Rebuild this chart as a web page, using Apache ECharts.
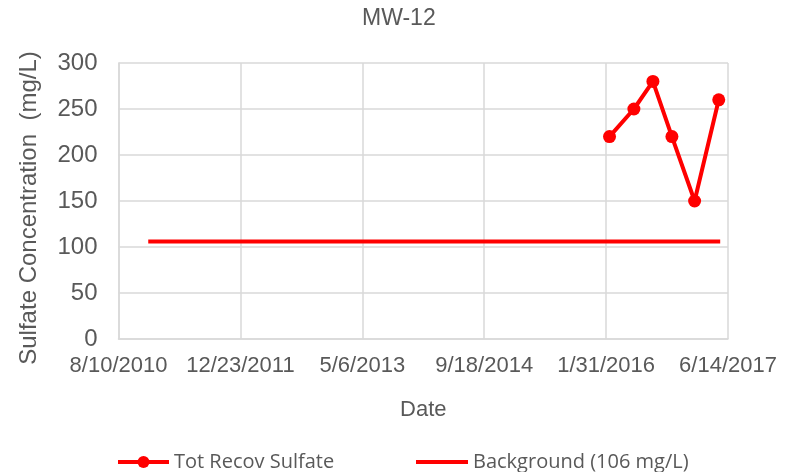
<!DOCTYPE html>
<html>
<head>
<meta charset="utf-8">
<script src="https://cdn.jsdelivr.net/npm/echarts@6/dist/echarts.min.js"></script>
<style>
  html, body { margin: 0; padding: 0; background: #fff; }
  #chart { width: 787px; height: 472px; }
</style>
</head>
<body>
<div id="chart"></div>
<script>
// Sampling dates and sulfate results for MW-12
const sampleDates = ['2016-02-14', '2016-05-24', '2016-08-10', '2016-10-27', '2017-01-28', '2017-05-07'];
const sulfateValues = [220, 250, 280, 220, 150, 260];

// Background reference level drawn across the record
const backgroundDates = ['2010-12-10', '2017-05-13'];
const backgroundValues = [106, 106];

// Axis range (spreadsheet serial days) and tick spacing
const xMinDate = '2010-08-10';
const xMaxDate = '2017-06-14';
const xTickDays = 500;
const yMin = 0, yMax = 300, yStep = 50;

const EPOCH = Date.UTC(1899, 11, 30);
function toSerial(iso) {
  const p = iso.split('-').map(Number);
  return Math.round((Date.UTC(p[0], p[1] - 1, p[2]) - EPOCH) / 86400000);
}
function serialLabel(v) {
  const d = new Date(EPOCH + v * 86400000);
  return (d.getUTCMonth() + 1) + '/' + d.getUTCDate() + '/' + d.getUTCFullYear();
}

const textColor = '#595959';
const gridColor = '#d9d9d9';
const red = '#ff0000';
const font = 'Liberation Sans, Arial, sans-serif';
const legendFont = 'Open Sans, Liberation Sans, sans-serif';

const chart = echarts.init(document.getElementById('chart'), null, { renderer: 'canvas' });
chart.setOption({
  animation: false,
  backgroundColor: '#fff',
  title: {
    text: 'MW-12',
    left: 362,
    top: 7,
    padding: 0,
    textStyle: { color: textColor, fontSize: 23, fontWeight: 'normal', fontFamily: font }
  },
  grid: { left: 118.5, right: 59, top: 63, bottom: 133, containLabel: false },
  xAxis: {
    type: 'value',
    min: toSerial(xMinDate),
    max: toSerial(xMaxDate),
    interval: xTickDays,
    name: 'Date',
    nameLocation: 'middle',
    nameGap: 60,
    nameTextStyle: { color: textColor, fontSize: 22, fontFamily: font },
    axisLine: { show: true, lineStyle: { color: gridColor, width: 1.5 } },
    axisTick: { show: false },
    axisLabel: {
      color: textColor, fontSize: 22, fontFamily: font, margin: 16,
      formatter: serialLabel
    },
    splitLine: { show: true, lineStyle: { color: gridColor, width: 1.5 } }
  },
  yAxis: {
    type: 'value',
    min: yMin,
    max: yMax,
    interval: yStep,
    name: 'Sulfate Concentration  (mg/L)',
    nameLocation: 'middle',
    nameRotate: 90,
    nameGap: 77,
    nameTextStyle: { color: textColor, fontSize: 24, fontFamily: font, padding: [0, 14, 0, 0] },
    axisLine: { show: true, lineStyle: { color: gridColor, width: 1.5 } },
    axisTick: { show: false },
    axisLabel: { color: textColor, fontSize: 24, fontFamily: font, margin: 21 },
    splitLine: { show: true, lineStyle: { color: gridColor, width: 1.5 } }
  },
  legend: [
    {
      left: 116,
      top: 452,
      padding: 0,
      itemWidth: 51,
      itemHeight: 15,
      lineStyle: { width: 4 },
      textStyle: { color: textColor, fontSize: 20, lineHeight: 20, fontFamily: legendFont },
      data: ['Tot Recov Sulfate']
    },
    {
      left: 416,
      top: 452,
      padding: 0,
      itemWidth: 52,
      itemHeight: 4,
      icon: 'rect',
      textStyle: { color: textColor, fontSize: 20, lineHeight: 20, fontFamily: legendFont },
      data: ['Background (106 mg/L)']
    }
  ],
  series: [
    {
      name: 'Tot Recov Sulfate',
      type: 'line',
      data: sampleDates.map((d, i) => [toSerial(d), sulfateValues[i]]),
      symbol: 'circle',
      symbolSize: 13,
      itemStyle: { color: red },
      lineStyle: { color: red, width: 4 },
      z: 3
    },
    {
      name: 'Background (106 mg/L)',
      type: 'line',
      data: backgroundDates.map((d, i) => [toSerial(d), backgroundValues[i]]),
      symbol: 'none',
      itemStyle: { color: red },
      lineStyle: { color: red, width: 4 },
      z: 2
    }
  ]
});
</script>
</body>
</html>
